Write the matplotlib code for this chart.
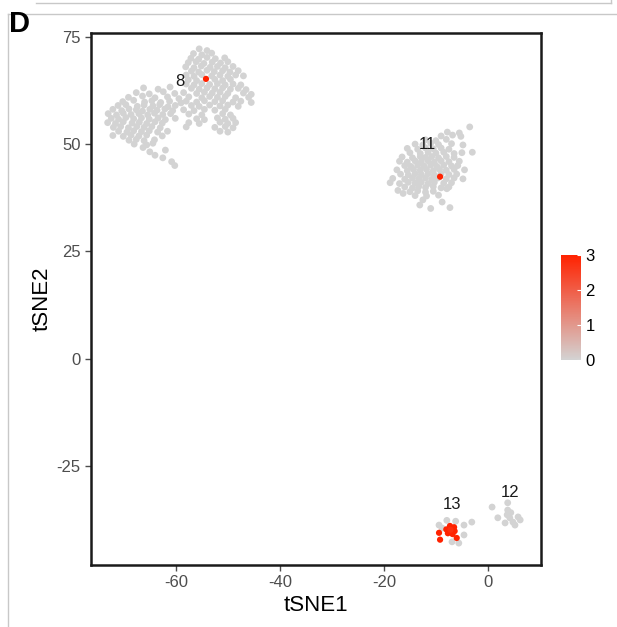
import numpy as np
import matplotlib.pyplot as plt
from matplotlib.colors import LinearSegmentedColormap
from matplotlib.lines import Line2D

plt.rcParams['font.family'] = ['Liberation Sans', 'DejaVu Sans']
plt.rcParams['axes.unicode_minus'] = False

# cluster 8, left lobe
left_lobe = [
    (-66.2, 63.1), (-63.4, 62.8), (-61.1, 63.3),
    (-67.6, 62.0), (-65.1, 61.7), (-62.4, 62.2), (-60.2, 61.8),
    (-69.1, 60.9), (-66.4, 61.2), (-64.0, 60.8), (-61.6, 61.0), (-59.4, 60.6),
    (-70.2, 59.9), (-68.1, 60.2), (-66.0, 59.8), (-64.6, 60.1), (-62.9, 59.7), (-61.2, 60.0), (-59.0, 59.6),
    (-71.1, 59.0), (-69.6, 59.2), (-67.4, 58.8), (-66.1, 59.1), (-64.4, 58.9), (-63.1, 59.2), (-61.5, 58.7), (-60.1, 59.0),
    (-72.1, 58.1), (-70.4, 57.8), (-69.0, 58.2), (-67.6, 58.0), (-66.4, 57.7), (-65.0, 58.1), (-63.6, 57.9), (-62.1, 58.2), (-60.6, 57.8),
    (-73.0, 57.1), (-71.4, 56.8), (-70.1, 57.2), (-68.6, 56.9), (-67.1, 57.1), (-65.4, 56.8), (-64.1, 57.2), (-62.5, 56.9), (-61.0, 57.1),
    (-72.4, 56.0), (-71.0, 55.8), (-69.6, 56.2), (-68.1, 55.9), (-66.6, 56.1), (-65.1, 55.8), (-63.4, 56.1), (-62.0, 55.7), (-60.1, 56.0),
    (-73.1, 55.0), (-71.6, 54.8), (-70.1, 55.2), (-68.4, 54.9), (-67.0, 55.1), (-65.6, 54.8), (-64.0, 55.2), (-62.6, 54.9),
    (-72.0, 53.9), (-70.6, 54.1), (-69.1, 53.8), (-67.5, 54.1), (-66.1, 53.9), (-64.6, 54.1), (-63.0, 53.8),
    (-71.0, 53.0), (-69.4, 52.8), (-68.1, 53.1), (-66.6, 52.9), (-65.1, 53.1), (-63.5, 52.8), (-61.6, 53.0),
    (-72.1, 52.0), (-70.1, 51.8), (-68.6, 52.1), (-67.1, 51.9), (-65.6, 52.1), (-62.6, 51.9),
    (-69.0, 50.9), (-67.6, 51.1), (-66.1, 50.8), (-64.1, 51.0),
    (-68.0, 50.0), (-65.6, 49.8),
    (-66.3, 49.2), (-65.0, 48.2), (-64.0, 47.4), (-62.5, 46.8), (-60.8, 45.9),
    (-64.4, 50.2), (-62.0, 48.6), (-60.2, 45.0),
]

# cluster 8, right lobe
right_lobe = [
    (-55.5, 72.2), (-54.0, 71.8),
    (-56.6, 71.1), (-55.0, 70.8), (-53.1, 71.2),
    (-57.1, 70.0), (-55.6, 69.8), (-54.0, 70.2), (-52.4, 69.9), (-50.6, 70.1),
    (-57.6, 69.0), (-56.1, 69.2), (-54.6, 68.8), (-53.0, 69.1), (-51.4, 68.9), (-50.0, 69.2),
    (-58.1, 68.0), (-56.5, 67.8), (-55.1, 68.2), (-53.4, 67.9), (-52.0, 68.1), (-50.5, 67.8), (-49.0, 68.1),
    (-57.0, 67.0), (-55.6, 66.8), (-54.0, 67.2), (-52.6, 66.9), (-51.0, 67.1), (-49.6, 66.8), (-48.0, 67.1),
    (-58.0, 66.1), (-56.5, 65.8), (-55.0, 66.2), (-53.1, 65.9), (-51.5, 66.1), (-50.0, 65.8), (-48.5, 66.1), (-47.0, 65.9),
    (-57.6, 65.0), (-56.0, 64.8), (-52.5, 65.1), (-51.0, 64.8), (-49.5, 65.1),
    (-58.0, 64.0), (-56.5, 63.8), (-55.0, 64.1), (-53.5, 63.9), (-52.0, 64.1), (-50.5, 63.8), (-49.0, 64.0), (-47.5, 63.8),
    (-57.0, 63.0), (-55.5, 62.8), (-54.0, 63.1), (-52.5, 62.9), (-51.0, 63.1), (-49.5, 62.8), (-48.0, 63.0), (-46.5, 62.7),
    (-58.5, 62.0), (-56.0, 61.8), (-54.5, 62.1), (-53.0, 61.9), (-51.5, 62.1), (-50.0, 61.8), (-47.0, 61.9), (-45.5, 61.6),
    (-57.5, 61.0), (-55.0, 60.8), (-53.5, 61.1), (-52.0, 60.9), (-50.5, 61.1), (-48.5, 60.8), (-46.0, 60.9),
    (-58.0, 60.0), (-56.0, 59.8), (-54.5, 60.1), (-52.5, 59.9), (-51.0, 60.1), (-49.0, 59.8), (-47.5, 60.0), (-45.5, 59.7),
    (-57.0, 59.0), (-55.5, 58.8), (-53.5, 59.1), (-51.5, 58.9), (-50.0, 59.1), (-48.0, 58.8),
    (-58.5, 58.0), (-56.5, 57.8), (-54.5, 58.1), (-52.5, 57.9), (-50.5, 58.1),
    (-57.5, 57.0), (-55.0, 56.8), (-51.0, 57.1), (-49.5, 56.8),
    (-56.0, 55.9), (-54.5, 55.7), (-52.0, 56.1), (-50.5, 55.8), (-49.0, 56.0),
    (-57.5, 55.0), (-55.5, 54.8), (-51.5, 55.1), (-50.0, 54.8), (-48.5, 55.0),
    (-58.0, 54.0), (-52.5, 53.9), (-50.5, 54.1), (-49.0, 53.8),
    (-51.5, 53.0), (-50.0, 52.8),
]

# cluster 11
cluster11 = [
    (-3.5, 54.0),
    (-7.8, 52.8), (-5.5, 52.6),
    (-9.0, 51.9), (-6.8, 52.1), (-5.2, 51.8),
    (-12.0, 51.0), (-10.0, 50.8), (-8.0, 51.1),
    (-14.0, 50.0), (-12.5, 49.8), (-11.0, 50.2), (-9.5, 49.9), (-7.0, 50.1), (-4.8, 49.8),
    (-15.5, 49.0), (-13.5, 48.8), (-12.0, 49.1), (-10.5, 48.9), (-9.0, 49.1), (-7.5, 48.8), (-3.0, 48.1),
    (-15.0, 48.0), (-13.0, 47.8), (-11.5, 48.1), (-10.0, 47.9), (-8.5, 48.1), (-6.5, 47.8), (-5.0, 48.0),
    (-16.5, 47.0), (-14.5, 46.8), (-13.0, 47.1), (-12.0, 46.9), (-10.8, 47.1), (-9.5, 46.8), (-8.0, 47.1), (-6.5, 46.9),
    (-17.0, 46.0), (-15.5, 45.8), (-14.0, 46.1), (-12.8, 45.9), (-11.5, 46.1), (-10.3, 45.8), (-9.0, 46.1), (-7.5, 45.9), (-5.5, 46.0),
    (-16.0, 45.0), (-14.8, 44.8), (-13.5, 45.1), (-12.3, 44.9), (-11.0, 45.1), (-9.8, 44.8), (-8.5, 45.1), (-7.0, 44.9), (-5.8, 45.0),
    (-17.5, 44.0), (-15.5, 43.8), (-14.3, 44.1), (-13.0, 43.9), (-11.8, 44.1), (-10.5, 43.8), (-9.3, 44.1), (-8.0, 43.9), (-6.5, 44.1), (-4.5, 44.0),
    (-16.8, 43.0), (-15.3, 42.8), (-14.0, 43.1), (-12.8, 42.9), (-11.5, 43.1), (-10.3, 42.8), (-9.0, 43.1), (-7.5, 42.9), (-6.0, 43.0),
    (-18.3, 42.0), (-16.0, 41.8), (-14.5, 42.1), (-13.3, 41.9), (-12.0, 42.1), (-10.8, 41.8), (-9.6, 42.1), (-8.0, 41.9), (-6.5, 42.1), (-4.8, 41.9),
    (-18.8, 41.0), (-17.0, 40.8), (-15.3, 41.1), (-14.0, 40.9), (-12.8, 41.1), (-11.5, 40.8), (-10.3, 41.1), (-8.5, 40.9), (-7.0, 41.0),
    (-16.0, 40.0), (-14.5, 39.8), (-13.3, 40.1), (-12.0, 39.9), (-10.5, 40.1), (-9.0, 39.8), (-7.5, 40.0),
    (-17.3, 39.2), (-15.0, 38.9), (-13.5, 39.1), (-12.0, 38.8), (-10.5, 39.0), (-7.9, 39.6),
    (-16.3, 38.5), (-14.0, 38.0), (-11.8, 37.9), (-9.5, 38.1),
    (-12.5, 37.0), (-8.8, 36.5),
    (-13.1, 35.8), (-7.3, 35.2), (-11.0, 35.0),
]

# cluster 13
cluster13 = [
    (-9.4, -38.8), (-7.9, -37.7), (-4.6, -38.8), (-3.1, -38.1), (-8.8, -39.5),
    (-5.6, -43.0), (-4.6, -41.1), (-6.9, -42.7), (-6.2, -37.9),
]

# cluster 12
cluster12 = [
    (0.8, -34.6), (3.8, -33.6), (3.8, -35.3), (3.7, -36.4), (4.2, -37.1),
    (1.9, -37.1), (5.8, -36.9), (6.2, -37.6), (3.3, -38.3), (4.8, -38.1),
    (5.2, -38.8), (4.4, -35.9),
]

# expressing cells
expr_points = [
    (-54.2, 65.2), (-9.2, 42.4),
    (-7.3, -39.0), (-6.5, -39.3), (-6.4, -40.2), (-6.8, -40.9), (-7.7, -40.7), (-8.0, -39.8),
    (-9.4, -40.6), (-9.2, -42.2), (-6.0, -41.8), (-7.2, -39.9),
]
expr_values = [3, 3, 3, 3, 3, 3, 3, 3, 3, 3, 3, 2.8]

labels = ["8", "11", "13", "12"]
label_pos = [(-59.3, 64.6), (-11.7, 49.9), (-6.9, -34.0), (4.2, -31.2)]

grey_pts = np.array(left_lobe + right_lobe + cluster11 + cluster13 + cluster12)
expr = np.array(expr_points)

cmap = LinearSegmentedColormap.from_list("gr", ["#d3d3d3", "#ff2200"])

fig = plt.figure(figsize=(6.17, 6.27), dpi=100)
ax = fig.add_axes([0.1475, 0.0989, 0.7293, 0.8485])

ax.scatter(grey_pts[:, 0], grey_pts[:, 1], c=np.zeros(len(grey_pts)), cmap=cmap,
           vmin=0, vmax=3, s=24, linewidths=0)
sc = ax.scatter(expr[:, 0], expr[:, 1], c=expr_values, cmap=cmap, vmin=0, vmax=3,
                s=20, linewidths=0)

for lab, (lx, ly) in zip(labels, label_pos):
    ax.text(lx, ly, lab, ha="center", va="center", fontsize=12, color="#1a1a1a")

ax.set_xlim(-76.3, 10.2)
ax.set_ylim(-48.1, 75.9)
ax.set_xticks([-60, -40, -20, 0])
ax.set_yticks([-25, 0, 25, 50, 75])
ax.tick_params(labelsize=12, colors="#4d4d4d", length=4, width=1)
for sp in ax.spines.values():
    sp.set_linewidth(1.8)
    sp.set_color("#1a1a1a")
ax.set_xlabel("tSNE1", fontsize=16, labelpad=3)
ax.set_ylabel("tSNE2", fontsize=16, labelpad=3)

cax = fig.add_axes([0.909, 0.4258, 0.032, 0.1675])
cb = fig.colorbar(sc, cax=cax, ticks=[0, 1, 2, 3])
cb.outline.set_visible(False)
cb.ax.tick_params(labelsize=12, length=3, color="white", direction="in")

# panel borders and letter
fig.add_artist(Line2D([0.013, 1.0], [0.977, 0.977], color="#c8c8c8", lw=1, transform=fig.transFigure))
fig.add_artist(Line2D([0.013, 0.013], [0.0, 0.977], color="#c8c8c8", lw=1, transform=fig.transFigure))
fig.add_artist(Line2D([0.058, 0.99], [0.996, 0.996], color="#c8c8c8", lw=1, transform=fig.transFigure))
fig.add_artist(Line2D([0.99, 0.99], [0.996, 1.0], color="#c8c8c8", lw=1, transform=fig.transFigure))
fig.text(0.015, 0.962, "D", fontsize=21, fontweight="bold", va="center", ha="left")

fig.savefig("out.png", dpi=100)
